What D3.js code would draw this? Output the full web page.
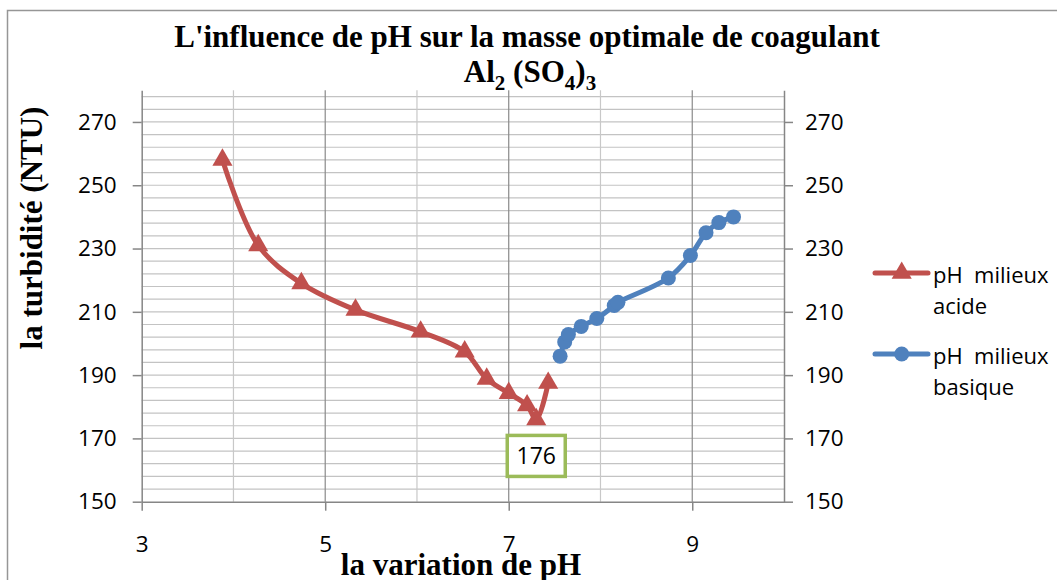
<!DOCTYPE html>
<html>
<head>
<meta charset="utf-8">
<script src="https://cdn.jsdelivr.net/npm/d3@7"></script>
<style>
    body { margin: 0; background: #fff; }
    .tick text { font-family: "Open Sans", sans-serif; font-size: 22.5px; fill: #000; }
</style>
</head>
<body>
<svg id="chart" width="1057" height="580"></svg>
<script>
// pH milieux acide (red triangles)
var acidePH = [3.88, 4.27, 4.74, 5.33, 6.04, 6.52, 6.76, 7.0, 7.2, 7.3, 7.43];
var acideTurb = [258, 231, 219, 210.6, 203.7, 197.4, 188.8, 184.3, 180.4, 176, 187.5];

// pH milieux basique (blue dots)
var basiquePH = [7.56, 7.61, 7.65, 7.79, 7.96, 8.15, 8.19, 8.74, 8.98, 9.15, 9.29, 9.45];
var basiqueTurb = [196, 200.5, 202.8, 205.4, 207.9, 212, 213, 220.7, 227.8, 235, 238.2, 240];

var xTicks = [3, 5, 7, 9];
var yTicks = [150, 170, 190, 210, 230, 250, 270];
var seriesNames = ["pH  milieux", "pH  milieux"];
var seriesSecond = ["acide", "basique"];
var minLabel = "176";

var red = "#C0504D", blue = "#4F81BD", green = "#9BBB59";
var serif = "'Liberation Serif', 'Times New Roman', serif";
var sans = "'Open Sans', sans-serif";

var svg = d3.select("#chart");

var x = d3.scaleLinear().domain([3, 10]).range([141.7, 784]);
var y = d3.scaleLinear().domain([150, 280]).range([501.7, 90.3]);

// outer border
svg.append("rect")
    .attr("x", 7.5).attr("y", 10.5)
    .attr("width", 1070).attr("height", 600)
    .attr("fill", "none")
    .attr("stroke", "#969696")
    .attr("stroke-width", 1.5);

// horizontal grid every 4 units
var hGrid = d3.range(154, 280, 4);
svg.append("g").selectAll("line")
    .data(hGrid)
    .join("line")
    .attr("x1", x(3)).attr("x2", x(10))
    .attr("y1", d => y(d)).attr("y2", d => y(d))
    .attr("stroke", "#c3c3c3")
    .attr("stroke-width", 1.2);

// vertical grid
var vGrid = [4, 5, 6, 7, 8, 9];
svg.append("g").selectAll("line")
    .data(vGrid)
    .join("line")
    .attr("x1", d => x(d)).attr("x2", d => x(d))
    .attr("y1", y(150)).attr("y2", y(280))
    .attr("stroke", d => d % 2 === 1 ? "#8a8a8a" : "#c8c8c8")
    .attr("stroke-width", 1.2);

function styleAxis(g) {
    g.select(".domain").attr("stroke", "#868686").attr("stroke-width", 1.5);
    g.selectAll(".tick line").attr("stroke", "#868686").attr("stroke-width", 1.5);
}

svg.append("g")
    .attr("transform", "translate(" + x(3) + ",0)")
    .call(d3.axisLeft(y).tickValues(yTicks).tickSize(9).tickSizeOuter(0).tickPadding(16))
    .call(styleAxis);

svg.append("g")
    .attr("transform", "translate(" + x(10) + ",0)")
    .call(d3.axisRight(y).tickValues(yTicks).tickSize(9).tickSizeOuter(0).tickPadding(12))
    .call(styleAxis);

svg.append("g")
    .attr("transform", "translate(0," + y(150) + ")")
    .call(d3.axisBottom(x).tickValues(xTicks).tickFormat(d3.format("d"))
        .tickSize(9).tickSizeOuter(0).tickPadding(25))
    .call(styleAxis);

// series
var line = d3.line()
    .x(d => x(d[0]))
    .y(d => y(d[1]))
    .curve(d3.curveCatmullRom.alpha(0.5));

var acide = acidePH.map((p, i) => [p, acideTurb[i]]);
var basique = basiquePH.map((p, i) => [p, basiqueTurb[i]]);

svg.append("path")
    .datum(acide)
    .attr("d", line)
    .attr("fill", "none")
    .attr("stroke", red)
    .attr("stroke-width", 5)
    .attr("stroke-linejoin", "round");

svg.append("path")
    .datum(basique)
    .attr("d", line)
    .attr("fill", "none")
    .attr("stroke", blue)
    .attr("stroke-width", 5)
    .attr("stroke-linejoin", "round");

var tri = d3.symbol(d3.symbolTriangle, 175);
svg.append("g").selectAll("path")
    .data(acide)
    .join("path")
    .attr("d", tri)
    .attr("transform", d => "translate(" + x(d[0]) + "," + y(d[1]) + ")")
    .attr("fill", red);

svg.append("g").selectAll("circle")
    .data(basique)
    .join("circle")
    .attr("cx", d => x(d[0]))
    .attr("cy", d => y(d[1]))
    .attr("r", 7.5)
    .attr("fill", blue);

// data label for the minimum
var minPt = acide[d3.minIndex(acide, d => d[1])];
var lx = x(minPt[0]), ly = y(minPt[1]);
svg.append("rect")
    .attr("x", lx - 29).attr("y", ly + 16)
    .attr("width", 58).attr("height", 41)
    .attr("fill", "#fff")
    .attr("stroke", green)
    .attr("stroke-width", 3.5);
svg.append("text")
    .attr("x", lx).attr("y", ly + 45)
    .attr("text-anchor", "middle")
    .style("font-family", sans)
    .style("font-size", "23px")
    .text(minLabel);

// legend
var legend = svg.append("g");
[[red, 273], [blue, 354]].forEach(function(l, i) {
    legend.append("line")
        .attr("x1", 875).attr("x2", 928)
        .attr("y1", l[1]).attr("y2", l[1])
        .attr("stroke", l[0])
        .attr("stroke-width", 5)
        .attr("stroke-linecap", "round");
    if (i === 0) {
        legend.append("path")
            .attr("d", tri)
            .attr("transform", "translate(901.7," + l[1] + ")")
            .attr("fill", red);
    } else {
        legend.append("circle")
            .attr("cx", 901.7).attr("cy", l[1]).attr("r", 7.5)
            .attr("fill", blue);
    }
    var t = legend.append("text")
        .attr("x", 933)
        .attr("y", l[1] + 9.5)
        .style("font-family", sans)
        .style("font-size", "22px")
        .style("white-space", "pre");
    t.append("tspan").text(seriesNames[i]);
    t.append("tspan").attr("x", 933).attr("dy", 31.5).text(seriesSecond[i]);
});

// titles
svg.append("text")
    .attr("x", 527).attr("y", 47)
    .attr("text-anchor", "middle")
    .style("font-family", serif)
    .style("font-weight", "bold")
    .style("font-size", "31px")
    .text("L'influence de pH sur la masse optimale de coagulant");

var t2 = svg.append("text")
    .attr("x", 530).attr("y", 82)
    .attr("text-anchor", "middle")
    .style("font-family", serif)
    .style("font-weight", "bold")
    .style("font-size", "31px")
    .style("white-space", "pre");
t2.append("tspan").text("Al");
t2.append("tspan").attr("dy", 8).style("font-size", "21px").text("2");
t2.append("tspan").attr("dy", -8).text(" (SO");
t2.append("tspan").attr("dy", 8).style("font-size", "21px").text("4");
t2.append("tspan").attr("dy", -8).text(")");
t2.append("tspan").attr("dy", 8).style("font-size", "21px").text("3");

svg.append("text")
    .attr("transform", "translate(42,228) rotate(-90)")
    .attr("text-anchor", "middle")
    .style("font-family", serif)
    .style("font-weight", "bold")
    .style("font-size", "31px")
    .text("la turbidité (NTU)");

svg.append("text")
    .attr("x", 461).attr("y", 575)
    .attr("text-anchor", "middle")
    .style("font-family", serif)
    .style("font-weight", "bold")
    .style("font-size", "31px")
    .text("la variation de pH");
</script>
</body>
</html>
